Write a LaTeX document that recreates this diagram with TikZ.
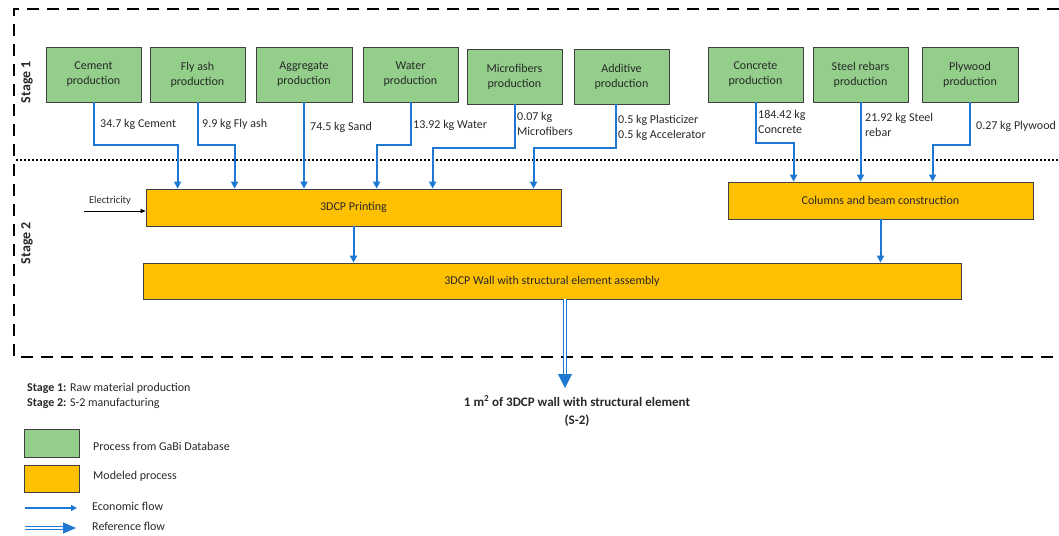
\documentclass[tikz,border=0pt]{standalone}
\usepackage{fontspec}
\setmainfont{Carlito}
\usetikzlibrary{arrows.meta,calc}
\definecolor{flowblue}{RGB}{30,120,210}
\definecolor{gabigreen}{RGB}{147,207,139}
\definecolor{modorange}{RGB}{255,192,0}
\definecolor{boxline}{RGB}{64,64,64}
\definecolor{txt}{RGB}{40,40,40}
\begin{document}
\begin{tikzpicture}[x=1pt,y=-1pt,
  gabi/.style={draw=boxline, line width=0.8pt, fill=gabigreen, minimum width=95pt, minimum height=55pt,
    inner sep=0pt, align=center, text=txt, font=\fontsize{12}{15}\selectfont},
  modeled/.style={draw=boxline, line width=0.8pt, fill=modorange, minimum height=37pt,
    inner sep=0pt, text=txt, font=\fontsize{12}{15}\selectfont},
  flow/.style={draw=flowblue, line width=2pt, -{Triangle[width=7pt,length=7pt]}},
  reflow/.style={draw=flowblue, double=white, double distance=1.6pt, line width=1pt,
    -{Triangle[width=14pt,length=14pt]}},
  amount/.style={anchor=west, inner sep=0pt, align=left, text=txt, font=\fontsize{12}{15}\selectfont},
  stageline/.style={draw=black, line width=2.8pt, dash pattern=on 12pt off 8pt},
  legtext/.style={anchor=west, inner sep=0pt, text=txt, font=\fontsize{12}{15}\selectfont}
]
\useasboundingbox (0,0) rectangle (1059,535);

% stage borders
\draw[stageline] (1059,9) -- (14,9) -- (14,357) -- (1059,357);
\draw[black, line width=2pt, dash pattern=on 2pt off 2pt] (16,160) -- (1059,160);
\node[rotate=90, text=txt, font=\bfseries\fontsize{14}{16}\selectfont] (s1) at (27,82) {Stage 1};
\node[rotate=90, text=txt, font=\bfseries\fontsize{14}{16}\selectfont] (s2) at (27,243) {Stage 2};

% GaBi processes
\node[gabi] (cem) at (93.5,74.5) {Cement\\production};
\node[gabi] (fly) at (197.5,74.5) {Fly ash\\production};
\node[gabi, minimum width=96pt] (agg) at (304,74.5) {Aggregate\\production};
\node[gabi] (wat) at (410.5,74.5) {Water\\production};
\node[gabi] (mic) at (514.5,76.5) {Microfibers\\production};
\node[gabi] (add) at (621.5,76.5) {Additive\\production};
\node[gabi] (con) at (755.5,74.5) {Concrete\\production};
\node[gabi] (ste) at (860.5,74.5) {Steel rebars\\production};
\node[gabi, minimum width=96pt] (ply) at (970,74.5) {Plywood\\production};

% modeled processes
\node[modeled, minimum width=415pt] (print) at (353.5,207.5) {3DCP Printing};
\node[modeled, minimum width=305pt] (col) at (880.5,200.5) {Columns and beam construction};
\node[modeled, minimum width=818pt, minimum height=36pt] (wall) at (552,281) {3DCP Wall with structural element assembly};

% amounts
\node[amount] (lcem) at (100,124) {34.7 kg Cement};
\node[amount] (lfly) at (202,124) {9.9 kg Fly ash};
\node[amount] (lagg) at (310,127) {74.5 kg Sand};
\node[amount] (lwat) at (413,125) {13.92 kg Water};
\node[amount] (lmic) at (517,123.5) {0.07 kg\\Microfibers};
\node[amount] (ladd) at (618,127.5) {0.5 kg Plasticizer\\0.5 kg Accelerator};
\node[amount] (lcon) at (758,121.5) {184.42 kg\\Concrete};
\node[amount] (lste) at (865,124.5) {21.92 kg Steel\\rebar};
\node[amount] (lply) at (976,126) {0.27 kg Plywood};

% flows into printing
\draw[flow] (cem.south) -- ++(0,43) -| ([xshift=32pt]print.north west);
\draw[flow] (fly.south) -- ++(0,43) -| ([xshift=89pt]print.north west);
\draw[flow] (agg.south) -- (agg.south |- print.north);
\draw[flow] (wat.south) -- ++(0,43) -| ([xshift=231pt]print.north west);
\draw[flow] (mic.south) -- ++(0,44) -| ([xshift=287pt]print.north west);
\draw[flow] ([xshift=-6pt]add.south) -- ++(0,44) -| ([xshift=388pt]print.north west);

% flows into columns
\draw[flow] (con.south) -- ++(0,41) -| ([xshift=66pt]col.north west);
\draw[flow] (ste.south) -- (ste.south |- col.north);
\draw[flow] (ply.south) -- ++(0,43) -| ([xshift=205pt]col.north west);

% electricity
\node[inner sep=0pt, text=txt, font=\fontsize{10.5}{12}\selectfont] (elec) at (110,201) {Electricity};
\coordinate (elecstart) at (84,211);
\draw[black, line width=0.6pt, -{Triangle[width=4pt,length=5pt]}] (elecstart) -- (elecstart -| print.west);

% into wall
\draw[flow] (print.south) -- (print.south |- wall.north);
\draw[flow] (col.south) -- (col.south |- wall.north);

% reference flow
\coordinate (fu) at (565,388);
\draw[reflow] (wall.south -| fu) -- (fu);
\node[align=center, inner sep=0pt, text=txt, font=\bfseries\fontsize{13}{18}\selectfont] (fun) at (577,411)
  {1 m\textsuperscript{2} of 3DCP wall with structural element\\(S-2)};

% legend
\node[legtext] (st1) at (27,388) {\textbf{Stage 1:} Raw material production};
\node[legtext] (st2) at (27,403) {\textbf{Stage 2:} S-2 manufacturing};
\node[draw=boxline, line width=0.8pt, fill=gabigreen, minimum width=55pt, minimum height=28pt, inner sep=0pt] (lg) at (51.5,443) {};
\node[legtext] (lgt) at (93,446) {Process from GaBi Database};
\node[draw=boxline, line width=0.8pt, fill=modorange, minimum width=55pt, minimum height=27pt, inner sep=0pt] (lo) at (51.5,478.5) {};
\node[legtext] (lot) at (93,476) {Modeled process};
\coordinate (ea) at (25,508);
\coordinate (eb) at (77,508);
\draw[draw=flowblue, line width=1.5pt, -{Triangle[width=6pt,length=6pt]}] (ea) -- (eb);
\node[legtext] (et) at (92,506) {Economic flow};
\coordinate (ra) at (25,528);
\coordinate (rb) at (76,528);
\draw[reflow, -{Triangle[width=11pt,length=13pt]}] (ra) -- (rb);
\node[legtext] (rt) at (92,526) {Reference flow};
\end{tikzpicture}
\end{document}
